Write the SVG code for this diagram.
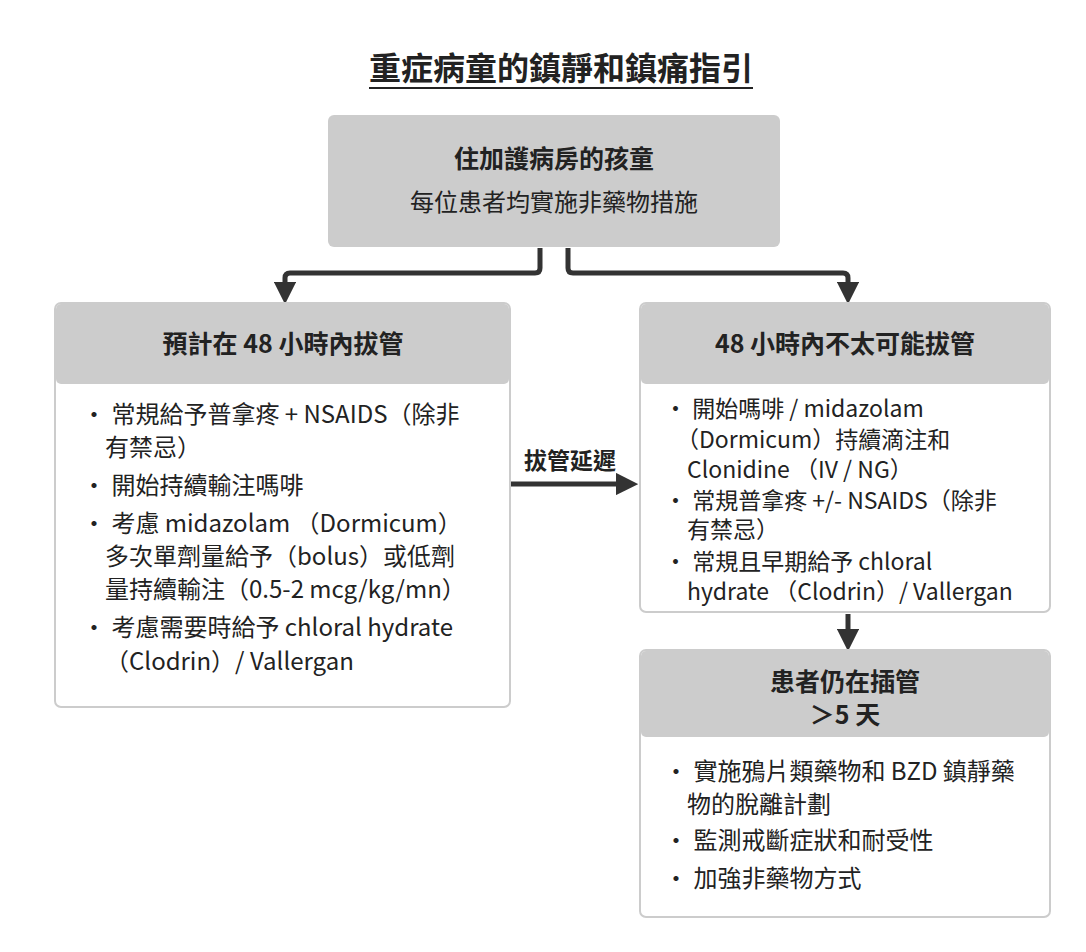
<svg xmlns="http://www.w3.org/2000/svg" width="1086" height="952" viewBox="0 0 1086 952">
<defs>
<marker id="ah" viewBox="0 0 10 10" refX="5" refY="5" markerWidth="4.5" markerHeight="4.5" orient="auto"><path d="M0,0 L10,5 L0,10 Z" fill="#333"/></marker>
</defs>
<style>
text{font-family:"Noto Sans CJK TC","Noto Sans",sans-serif;fill:#222;font-size:24px}
.h{font-weight:bold;font-size:25px}
.s{font-size:23px}
.c{stroke:#333;stroke-width:5;fill:none}
.box{fill:#fff;stroke:#ccc;stroke-width:2}
.hd{fill:#ccc}
</style>
<rect width="1086" height="952" fill="#fff"/>
<text x="561" y="80" text-anchor="middle" style="font-size:32px;font-weight:bold">重症病童的鎮靜和鎮痛指引</text>
<line x1="369" y1="88" x2="753" y2="88" stroke="#222" stroke-width="2"/>
<g id="connectors">
<path class="c" d="M540,248 V268 Q540,273 535,273 H290 Q285,273 285,278 V293" marker-end="url(#ah)"/>
<path class="c" d="M568,248 V268 Q568,273 573,273 H843 Q848,273 848,278 V293" marker-end="url(#ah)"/>
<path class="c" d="M510,484 H627" marker-end="url(#ah)"/>
<path class="c" d="M848,614 V640" marker-end="url(#ah)"/>
<text x="570" y="469" text-anchor="middle" class="h" style="font-size:23px">拔管延遲</text>
</g>
<g id="top">
<rect x="328" y="115" width="452" height="132" rx="6" fill="#ccc"/>
<text x="554" y="168" text-anchor="middle" class="h">住加護病房的孩童</text>
<text x="554" y="211" text-anchor="middle">每位患者均實施非藥物措施</text>
</g>
<g id="left">
<rect class="box" x="55" y="303" width="455" height="404" rx="6"/>
<rect class="hd" x="56" y="304" width="453" height="80" rx="5"/>
<text x="283" y="353" text-anchor="middle" class="h">預計在 48 小時內拔管</text>
<text x="82" y="423">·  常規給予普拿疼 + NSAIDS（除非</text>
<text x="105" y="456">有禁忌）</text>
<text x="82" y="494">·  開始持續輸注嗎啡</text>
<text x="82" y="532">·  考慮 midazolam （Dormicum）</text>
<text x="105" y="565">多次單劑量給予（bolus）或低劑</text>
<text x="105" y="598">量持續輸注（0.5-2 mcg/kg/mn）</text>
<text x="82" y="636">·  考慮需要時給予 chloral hydrate</text>
<text x="105" y="670">（Clodrin）/ Vallergan</text>
</g>
<g id="right">
<rect class="box" x="640" y="303" width="410" height="309" rx="6"/>
<rect class="hd" x="641" y="304" width="408" height="80" rx="5"/>
<text x="845" y="353" text-anchor="middle" class="h">48 小時內不太可能拔管</text>
<text class="s" x="664" y="417">·  開始嗎啡 / midazolam</text>
<text class="s" x="676" y="448">（Dormicum）持續滴注和</text>
<text class="s" x="687" y="478">Clonidine （IV / NG）</text>
<text class="s" x="664" y="509">·  常規普拿疼 +/- NSAIDS（除非</text>
<text class="s" x="687" y="538">有禁忌）</text>
<text class="s" x="664" y="570">·  常規且早期給予 chloral</text>
<text class="s" x="687" y="600">hydrate （Clodrin）/ Vallergan</text>
</g>
<g id="bottom">
<rect class="box" x="640" y="650" width="410" height="267" rx="6"/>
<rect class="hd" x="641" y="651" width="408" height="86" rx="5"/>
<text x="845" y="691" text-anchor="middle" class="h">患者仍在插管</text>
<text x="845" y="724" text-anchor="middle" class="h">＞5 天</text>
<text x="664" y="780">·  實施鴉片類藥物和 BZD 鎮靜藥</text>
<text x="687" y="813">物的脫離計劃</text>
<text x="664" y="849">·  監測戒斷症狀和耐受性</text>
<text x="664" y="887">·  加強非藥物方式</text>
</g>
</svg>
